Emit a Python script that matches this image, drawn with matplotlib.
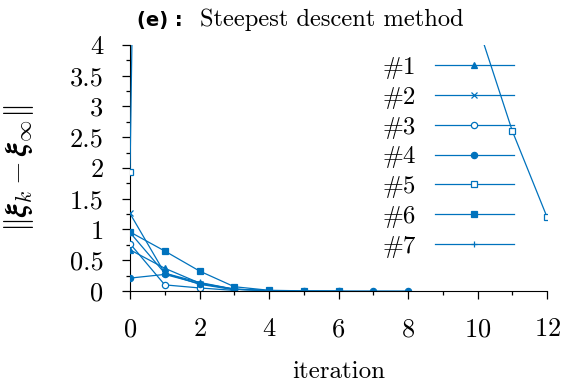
import numpy as np
import matplotlib.pyplot as plt
from matplotlib.ticker import MultipleLocator

plt.rcParams['font.family'] = 'cmr10'
plt.rcParams['mathtext.fontset'] = 'cm'
plt.rcParams['axes.formatter.use_mathtext'] = True

# distance to the limit per iteration, seven runs
run1 = [0.67, 0.37, 0.13, 0.03, 0.005]
run2 = [1.26, 0.29, 0.11, 0.02]
run3 = [0.77, 0.10, 0.05, 0.01]
run4 = [0.21, 0.27, 0.12, 0.03, 0.006, 0.002, 0.001, 0.0005, 0.0002]
run5 = [1.93, 40.0, 33.0, 27.0, 21.0, 16.0, 12.0, 9.0, 7.0, 5.6, 4.33, 2.6, 1.2]
run6 = [0.96, 0.65, 0.325, 0.07, 0.012, 0.003, 0.001]
run7 = [0.95, 0.29, 0.14, 0.03, 0.005]

runs = [run1, run2, run3, run4, run5, run6, run7]
labels = ['#1', '#2', '#3', '#4', '#5', '#6', '#7']
markers = ['^', 'x', 'o', 'o', 's', 's', '+']
filled = [True, True, False, True, False, True, True]

color = '#0072BD'

fig = plt.figure(figsize=(5.64, 3.87), dpi=100)
ax = fig.add_axes([0.2305, 0.248, 0.7395, 0.636])

for vals, lab, m, f in zip(runs, labels, markers, filled):
    it = np.arange(len(vals))
    ax.plot(it, vals, color=color, lw=0.9, marker=m, markersize=4.5,
            markeredgewidth=0.9,
            markerfacecolor=color if f else 'white',
            markeredgecolor=color, label=lab)

ax.set_xlim(0, 12)
ax.set_ylim(0, 4)
ax.xaxis.set_major_locator(MultipleLocator(2))
ax.xaxis.set_minor_locator(MultipleLocator(1))
ax.yaxis.set_minor_locator(MultipleLocator(0.25))
ax.set_yticks([0, 0.5, 1, 1.5, 2, 2.5, 3, 3.5, 4])
ax.set_yticklabels(['0', '0.5', '1', '1.5', '2', '2.5', '3', '3.5', '4'])
ax.tick_params(which='major', direction='out', length=6, width=0.9,
               labelsize=19, pad=13)
ax.tick_params(which='minor', direction='out', length=3, width=0.9)
ax.spines['top'].set_visible(False)
ax.spines['right'].set_visible(False)
ax.spines['left'].set_zorder(0)

ax.set_xlabel('iteration', fontsize=18, labelpad=14)
ax.set_ylabel(r'$\|\boldsymbol{\xi}_k-\boldsymbol{\xi}_\infty\|$',
              fontsize=22, labelpad=24)

fig.text(0.243, 0.948, '(e) :', fontsize=14, fontweight='bold',
         family='DejaVu Sans', ha='left', va='center')
fig.text(0.354, 0.948, 'Steepest descent method', fontsize=17.6,
         ha='left', va='center')

ax.legend(loc='upper right', bbox_to_anchor=(0.933, 0.886),
          bbox_transform=fig.transFigure, frameon=False,
          markerfirst=False, fontsize=18, handlelength=3.15,
          handletextpad=0.75, labelspacing=0.29, borderpad=0)

fig.savefig('out.png', dpi=100)
